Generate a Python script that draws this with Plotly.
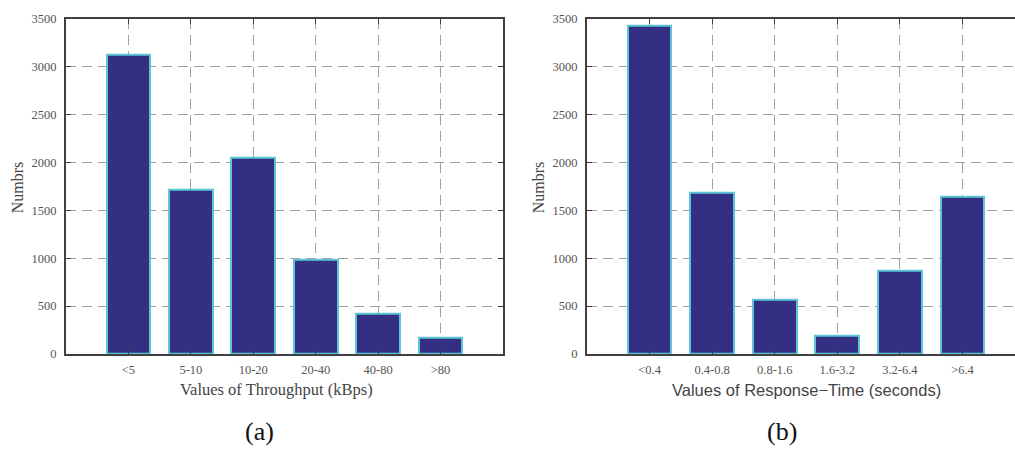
import plotly.graph_objects as go
from plotly.subplots import make_subplots

# Throughput histogram (a)
tp_labels = ["<5", "5-10", "10-20", "20-40", "40-80", ">80"]
tp_counts = [3120, 1715, 2045, 980, 425, 175]

# Response-time histogram (b)
rt_labels = ["<0.4", "0.4-0.8", "0.8-1.6", "1.6-3.2", "3.2-6.4", ">6.4"]
rt_counts = [3430, 1680, 565, 192, 870, 1640]

y_ticks = [0, 500, 1000, 1500, 2000, 2500, 3000, 3500]

W, H = 1015, 453
BAR_FILL = "#352F84"
BAR_EDGE = "#5CC6D6"
AXIS_COL = "#404040"
GRID_COL = "#a0a0a0"
TICK_COL = "#555555"
GRID_DASH = "10px,6px"
SERIF = "Liberation Serif, Times New Roman, serif"
SANS = "Liberation Sans, Arial, sans-serif"

# right panel runs past the page edge: unit width ~62.7px starting at x=587
RIGHT_X_MAX = 7 * (W - 587) / (1025 - 587)

fig = make_subplots(rows=1, cols=2)

panels = [(tp_labels, tp_counts, 7.0), (rt_labels, rt_counts, RIGHT_X_MAX)]
for col, (labels, counts, xmax) in enumerate(panels, start=1):
    xs = list(range(1, len(labels) + 1))
    fig.add_trace(
        go.Bar(
            x=xs, y=counts, width=0.7,
            marker=dict(color=BAR_FILL, line=dict(color=BAR_EDGE, width=2)),
            showlegend=False, hoverinfo="y",
        ),
        row=1, col=col,
    )
    fig.update_xaxes(
        range=[0, xmax], tickvals=xs, ticktext=labels,
        showline=True, linecolor=AXIS_COL, linewidth=2, mirror="ticks",
        ticks="inside", ticklen=5, tickcolor=AXIS_COL, tickwidth=1,
        showgrid=True, gridcolor=GRID_COL, griddash=GRID_DASH, gridwidth=1,
        tickfont=dict(family=SERIF, size=12.5, color=TICK_COL),
        ticklabelstandoff=3,
        zeroline=False,
        row=1, col=col,
    )
    fig.update_yaxes(
        range=[0, 3500], tickvals=y_ticks,
        showline=True, linecolor=AXIS_COL, linewidth=2,
        mirror="ticks" if col == 1 else False,
        ticks="inside", ticklen=5, tickcolor=AXIS_COL, tickwidth=1,
        showgrid=True, gridcolor=GRID_COL, griddash=GRID_DASH, gridwidth=1,
        tickfont=dict(family=SERIF, size=12.5, color=TICK_COL),
        ticklabelstandoff=5,
        zeroline=False,
        row=1, col=col,
    )

y0, y1 = 1 - 358 / H, 1 - 12 / H
fig.update_layout(
    xaxis=dict(domain=[66 / W, 503 / W]),
    xaxis2=dict(domain=[587 / W, 1.0]),
    yaxis=dict(domain=[y0, y1]),
    yaxis2=dict(domain=[y0, y1]),
    width=W, height=H,
    margin=dict(l=0, r=0, t=0, b=0),
    plot_bgcolor="white", paper_bgcolor="white",
    bargap=0,
)

def ann(text, x, y, family, size, angle=0, color="#333333"):
    fig.add_annotation(
        text=text, x=x / W, y=1 - y / H, xref="paper", yref="paper",
        showarrow=False, textangle=angle,
        font=dict(family=family, size=size, color=color),
        xanchor="center", yanchor="middle",
    )

ann("Values of Throughput (kBps)", 276, 395, SERIF, 16.5, color="#444444")
ann("Values of Response\u2212Time (seconds)", 806, 395, SANS, 16.5, color="#444444")
ann("Numbrs", 17, 186, SERIF, 16, angle=-90, color="#444444")
ann("Numbrs", 538, 186, SERIF, 16, angle=-90, color="#444444")
ann("(a)", 259, 438, SERIF, 26, color="#111111")
ann("(b)", 782, 438, SERIF, 26, color="#111111")

fig.write_html("out.html")
